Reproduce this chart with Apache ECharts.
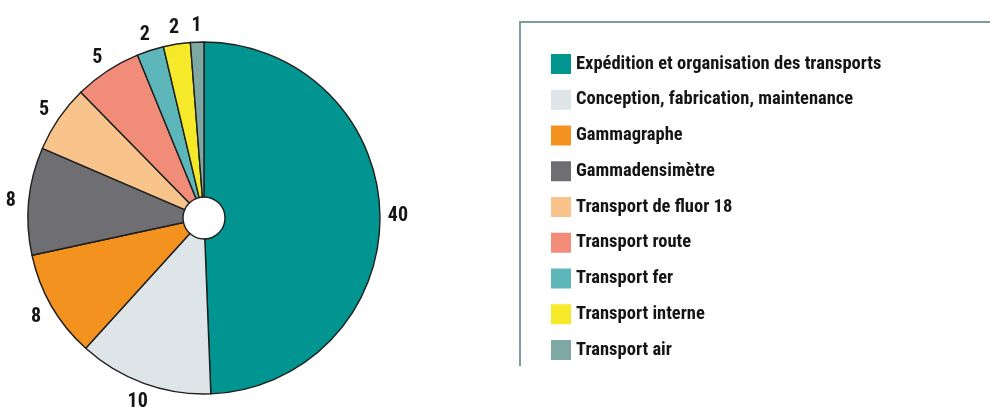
<!DOCTYPE html>
<html>
<head>
<meta charset="utf-8">
<script src="https://cdn.jsdelivr.net/npm/echarts@6/dist/echarts.min.js"></script>
<style>
  html, body { margin: 0; padding: 0; background: #ffffff; }
  #chart { width: 990px; height: 409px; }
</style>
</head>
<body>
<div id="chart"></div>
<script>
// Activity categories and their counts
const categories = [
  'Expédition et organisation des transports',
  'Conception, fabrication, maintenance',
  'Gammagraphe',
  'Gammadensimètre',
  'Transport de fluor 18',
  'Transport route',
  'Transport fer',
  'Transport interne',
  'Transport air'
];
const counts = [40, 10, 8, 8, 5, 5, 2, 2, 1];
const colors = [
  '#009590', '#dde5e9', '#f3921f', '#6f6f73', '#f8c48c',
  '#f18c78', '#5db6b9', '#f5e92a', '#7ea8a4'
];

const FONT = '"Roboto Condensed", "Open Sans", sans-serif';
const LABEL_GAP = 18;   // distance from the rim to each value label's centre
const LINE_LEN = 4;     // (invisible) guide line, used to get each slice's outward direction

const chart = echarts.init(document.getElementById('chart'), null, { renderer: 'canvas' });

chart.setOption({
  backgroundColor: '#ffffff',
  animation: false,
  color: colors,
  legend: {
    orient: 'vertical',
    left: 546,
    top: 49,
    itemWidth: 20,
    itemHeight: 20,
    itemGap: 15.75,
    icon: 'rect',
    selectedMode: false,
    itemStyle: { borderWidth: 0 },
    data: categories,
    textStyle: {
      fontFamily: FONT,
      fontWeight: 'bold',
      fontSize: 18.5,
      lineHeight: 20,
      color: '#151515'
    }
  },
  graphic: [
    {
      // frame around the legend (top and left edges)
      type: 'polyline',
      silent: true,
      shape: { points: [[520, 366], [520, 22], [995, 22]] },
      style: { stroke: '#7c9f9b', lineWidth: 2, fill: null }
    }
  ],
  series: [
    {
      type: 'pie',
      center: [204, 218],
      radius: [21, 176],
      startAngle: 90,
      clockwise: true,
      avoidLabelOverlap: false,
      data: categories.map((name, i) => ({ name, value: counts[i] })),
      itemStyle: {
        borderColor: '#1e1e1e',
        borderWidth: 1.4
      },
      label: {
        show: true,
        position: 'outside',
        formatter: '{c}',
        fontFamily: FONT,
        fontWeight: 'bold',
        fontSize: 20,
        color: '#151515'
      },
      labelLine: {
        show: true,
        length: LINE_LEN,
        length2: 0,
        lineStyle: { opacity: 0 }
      },
      // centre each value label on its slice's outward direction
      labelLayout: function (params) {
        const pts = params.labelLinePoints;
        if (!pts) return {};
        const ux = (pts[1][0] - pts[0][0]) / LINE_LEN;
        const uy = (pts[1][1] - pts[0][1]) / LINE_LEN;
        return {
          x: pts[0][0] + ux * LABEL_GAP,
          y: pts[0][1] + uy * LABEL_GAP + 2,
          align: 'center',
          verticalAlign: 'middle'
        };
      },
      emphasis: { disabled: true }
    }
  ]
});
</script>
</body>
</html>
